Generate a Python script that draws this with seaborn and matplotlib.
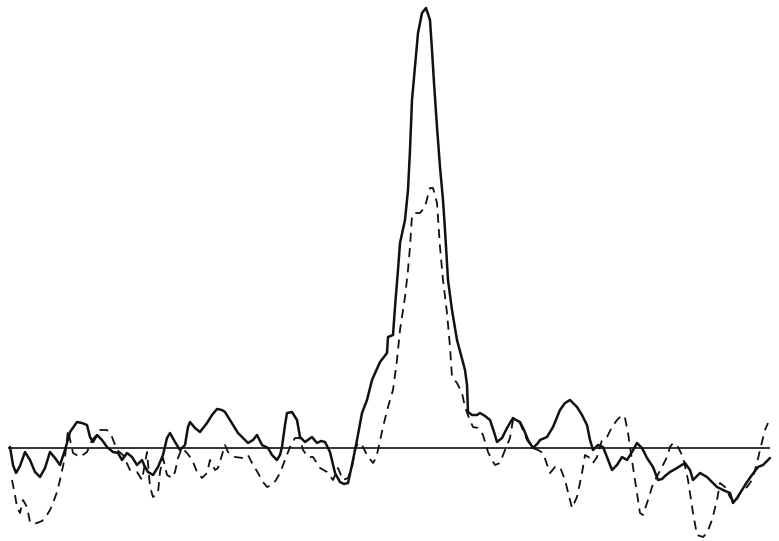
import numpy as np
import pandas as pd
import matplotlib
matplotlib.use("Agg")
import matplotlib.pyplot as plt
import seaborn as sns

# solid trace: position along record vs. height above the baseline
solid_x = [10, 13, 16, 20, 25, 30, 35, 40, 45, 50, 55, 60, 65, 70, 77, 82, 87, 90, 93, 97,
           102, 107, 113, 118, 122, 127, 132, 137, 142, 145, 148, 153, 158, 163, 167, 170, 175, 180, 185, 188,
           190, 195, 200, 207, 212, 217, 222, 225, 230, 238, 243, 248, 253, 257, 262, 268, 272, 277, 280, 282,
           285, 287, 292, 297, 300, 305, 312, 317, 321, 325, 330, 335, 340, 344, 348, 353, 357, 362, 367, 372,
           380, 387, 388, 393, 395, 398, 400, 405, 408, 410, 412, 415, 418, 422, 426, 430, 432, 434, 437, 440,
           443, 445, 448, 452, 457, 465, 467, 468, 472, 477, 480, 485, 490, 494, 497, 502, 507, 513, 516, 520,
           524, 528, 533, 538, 540, 547, 553, 560, 565, 570, 577, 582, 587, 590, 593, 598, 603, 607, 612, 617,
           622, 627, 632, 637, 642, 647, 653, 658, 662, 665, 670, 677, 685, 690, 693, 700, 707, 712, 717, 723,
           730, 733, 737, 742, 747, 752, 758, 763, 770]
solid_y = [1, -17, -25, -18, -4, -12, -24, -29, -20, -4, -10, -17, -2, 16, 26, 25, 23, 11, 6, 13,
           8, 1, -4, -5, -12, -5, -9, -17, -12, -19, -24, -27, -19, -7, 10, 15, 6, -2, 3, 21,
           26, 20, 16, 25, 33, 39, 38, 36, 28, 15, 10, 5, 8, 13, 3, 0, -7, -12, -7, 1,
           23, 35, 36, 28, 11, 6, 11, 5, 7, 6, -4, -25, -34, -36, -35, -12, 8, 35, 48, 68,
           86, 95, 111, 113, 141, 178, 205, 228, 258, 298, 348, 381, 415, 435, 440, 428, 398, 365, 321, 281,
           248, 218, 168, 138, 108, 78, 63, 36, 33, 33, 35, 32, 28, 16, 6, 10, 20, 30, 28, 26,
           18, 8, 0, 5, 8, 11, 21, 38, 45, 48, 41, 33, 23, 8, -2, 3, 1, -9, -22, -17,
           -9, -12, -4, 5, 0, -10, -19, -32, -31, -28, -24, -20, -15, -22, -32, -25, -29, -34, -39, -42,
           -45, -55, -50, -42, -34, -27, -19, -17, -10]

# dashed trace
dash_x = [12, 15, 17, 20, 23, 27, 30, 33, 37, 42, 45, 50, 53, 57, 60, 65, 68, 73, 80, 87,
          92, 95, 100, 107, 112, 117, 123, 130, 137, 142, 145, 147, 150, 153, 158, 160, 163, 167, 172, 175,
          178, 182, 187, 190, 193, 197, 202, 207, 210, 215, 218, 222, 225, 228, 235, 243, 248, 252, 258, 263,
          267, 272, 276, 280, 285, 290, 295, 300, 303, 308, 313, 320, 327, 333, 338, 343, 348, 352, 355, 358,
          362, 367, 373, 376, 378, 383, 388, 393, 397, 400, 405, 408, 410, 412, 416, 420, 425, 428, 430, 433,
          437, 440, 443, 447, 450, 452, 457, 462, 465, 469, 473, 478, 483, 488, 492, 495, 500, 505, 510, 513,
          516, 520, 527, 533, 538, 543, 550, 555, 560, 565, 570, 572, 577, 582, 585, 590, 593, 597, 602, 607,
          612, 617, 622, 625, 628, 633, 637, 640, 643, 648, 652, 655, 662, 667, 670, 673, 678, 683, 688, 693,
          697, 703, 707, 712, 717, 720, 725, 730, 735, 740, 747, 752, 757, 760, 765, 768]
dash_y = [-32, -47, -59, -65, -52, -59, -74, -76, -75, -73, -70, -62, -55, -44, -32, -9, 18, -5, -9, -4,
          8, 11, 18, 18, 11, -2, -7, -22, -24, -32, -15, -4, -39, -49, -45, -24, -10, -27, -30, -24,
          -10, 0, -5, -9, -14, -24, -30, -25, -12, -22, -20, -7, 3, -4, -9, -10, -7, -15, -25, -34,
          -39, -37, -32, -25, -12, 1, 10, 10, -2, -9, -9, -20, -24, -32, -20, -32, -30, -19, -2, 5,
          3, -7, -15, -10, -2, 21, 41, 58, 88, 118, 151, 178, 201, 233, 235, 235, 241, 253, 260, 260,
          245, 201, 168, 135, 101, 71, 65, 55, 41, 30, 21, 20, 13, -4, -12, -17, -15, -2, 10, 28,
          28, 25, 8, 0, -2, -5, -25, -19, -19, -32, -52, -60, -49, -25, -7, -10, -15, -9, 8, 11,
          21, 28, 33, 30, 15, -19, -45, -65, -67, -52, -39, -32, -19, -9, 1, 5, 1, -9, -32, -65,
          -87, -89, -85, -72, -52, -35, -39, -49, -55, -45, -39, -32, -15, -2, 18, 25]

solid = pd.DataFrame({"pos": solid_x, "height": solid_y})
dashed = pd.DataFrame({"pos": dash_x, "height": dash_y})

sns.set_style("white")
fig = plt.figure(figsize=(7.79, 5.41), dpi=100)
ax = fig.add_axes([0, 0, 1, 1])

ax.hlines(0, 8, 770, color="#111111", linewidth=1.2)
sns.lineplot(data=solid, x="pos", y="height", ax=ax, sort=False, estimator=None,
             color="#111111", linewidth=1.8)
sns.lineplot(data=dashed, x="pos", y="height", ax=ax, sort=False, estimator=None,
             color="#111111", linewidth=1.3, linestyle=(0, (5, 3.5)))

ax.set_xlim(0, 779)
ax.set_ylim(-93, 448)
ax.set_axis_off()

fig.savefig("out.png", dpi=100, facecolor="white")
